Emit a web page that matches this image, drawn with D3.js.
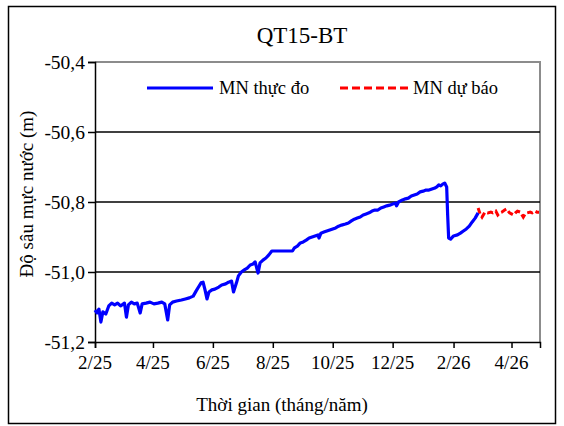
<!DOCTYPE html>
<html><head><meta charset="utf-8">
<script src="https://cdn.jsdelivr.net/npm/d3@7"></script>
</head><body style="margin:0"><svg id="c" width="564" height="426" font-family="Times New Roman"></svg>
<script>
const title = "QT15-BT";
const yLabel = "Độ sâu mực nước (m)";
const xLabel = "Thời gian (tháng/năm)";
const seriesNames = ["MN thực đo", "MN dự báo"];
const yTicks = [-50.4, -50.6, -50.8, -51.0, -51.2];
const xTickDates = ["2025-02-01","2025-04-01","2025-06-01","2025-08-01","2025-10-01","2025-12-01","2026-02-01","2026-04-01"];
const xDomain = ["2025-02-01", "2026-04-30"];

const obsDates = ["2025-02-01","2025-02-03","2025-02-05","2025-02-07","2025-02-09","2025-02-12","2025-02-15","2025-02-18","2025-02-21","2025-02-24","2025-02-27","2025-03-03","2025-03-05","2025-03-07","2025-03-10","2025-03-13","2025-03-16","2025-03-19","2025-03-21","2025-03-25","2025-03-29","2025-04-02","2025-04-06","2025-04-10","2025-04-13","2025-04-16","2025-04-18","2025-04-21","2025-04-25","2025-04-30","2025-05-04","2025-05-08","2025-05-12","2025-05-15","2025-05-18","2025-05-20","2025-05-22","2025-05-24","2025-05-26","2025-05-28","2025-05-31","2025-06-03","2025-06-07","2025-06-10","2025-06-14","2025-06-17","2025-06-20","2025-06-22","2025-06-25","2025-06-27","2025-06-30","2025-07-03","2025-07-06","2025-07-09","2025-07-12","2025-07-14","2025-07-17","2025-07-19","2025-07-22","2025-07-25","2025-07-28","2025-07-31","2025-08-04","2025-08-08","2025-08-13","2025-08-17","2025-08-21","2025-08-23","2025-08-26","2025-08-29","2025-09-01","2025-09-04","2025-09-07","2025-09-10","2025-09-13","2025-09-16","2025-09-17","2025-09-19","2025-09-22","2025-09-25","2025-09-28","2025-10-01","2025-10-04","2025-10-07","2025-10-10","2025-10-14","2025-10-17","2025-10-20","2025-10-23","2025-10-26","2025-10-29","2025-11-01","2025-11-04","2025-11-07","2025-11-10","2025-11-13","2025-11-16","2025-11-19","2025-11-22","2025-11-25","2025-11-28","2025-12-01","2025-12-04","2025-12-05","2025-12-07","2025-12-11","2025-12-14","2025-12-17","2025-12-20","2025-12-23","2025-12-26","2025-12-29","2026-01-01","2026-01-04","2026-01-07","2026-01-10","2026-01-13","2026-01-15","2026-01-17","2026-01-19","2026-01-21","2026-01-23","2026-01-25","2026-01-26","2026-01-27","2026-01-29","2026-02-01","2026-02-05","2026-02-08","2026-02-11","2026-02-14","2026-02-17","2026-02-20","2026-02-23","2026-02-26"];
const obsValues = [-51.109,-51.117,-51.106,-51.143,-51.114,-51.120,-51.097,-51.089,-51.094,-51.089,-51.097,-51.089,-51.129,-51.094,-51.086,-51.091,-51.089,-51.117,-51.091,-51.089,-51.086,-51.091,-51.089,-51.086,-51.091,-51.137,-51.094,-51.086,-51.083,-51.080,-51.077,-51.074,-51.069,-51.054,-51.040,-51.031,-51.029,-51.051,-51.077,-51.057,-51.051,-51.049,-51.043,-51.037,-51.034,-51.029,-51.026,-51.057,-51.031,-51.011,-51.000,-50.994,-50.989,-50.980,-50.977,-50.971,-51.003,-50.974,-50.966,-50.960,-50.951,-50.940,-50.940,-50.940,-50.940,-50.940,-50.940,-50.931,-50.926,-50.917,-50.914,-50.909,-50.903,-50.900,-50.897,-50.894,-50.903,-50.889,-50.886,-50.883,-50.880,-50.877,-50.874,-50.869,-50.866,-50.863,-50.860,-50.854,-50.849,-50.846,-50.843,-50.837,-50.834,-50.831,-50.826,-50.823,-50.823,-50.817,-50.814,-50.811,-50.809,-50.806,-50.803,-50.811,-50.800,-50.794,-50.791,-50.789,-50.783,-50.780,-50.777,-50.771,-50.769,-50.766,-50.766,-50.763,-50.760,-50.757,-50.751,-50.754,-50.749,-50.746,-50.757,-50.837,-50.903,-50.906,-50.897,-50.894,-50.889,-50.883,-50.877,-50.869,-50.857,-50.846,-50.831];

const fcDates = ["2026-02-26","2026-02-28","2026-03-02","2026-03-05","2026-03-08","2026-03-11","2026-03-13","2026-03-16","2026-03-18","2026-03-20","2026-03-22","2026-03-25","2026-03-27","2026-03-30","2026-04-03","2026-04-05","2026-04-07","2026-04-10","2026-04-13","2026-04-15","2026-04-17","2026-04-20","2026-04-22","2026-04-25","2026-04-27","2026-04-29"];
const fcValues = [-50.817,-50.834,-50.843,-50.829,-50.831,-50.829,-50.831,-50.826,-50.837,-50.831,-50.829,-50.823,-50.820,-50.831,-50.837,-50.831,-50.826,-50.829,-50.843,-50.834,-50.831,-50.829,-50.831,-50.826,-50.829,-50.829];

const parse = d3.utcParse("%Y-%m-%d");
const svg = d3.select("#c");
const L = 95, R = 540, T = 62, B = 342;

svg.append("rect").attr("x", 8.5).attr("y", 6.5).attr("width", 547).attr("height", 417)
  .attr("fill", "#fff").attr("stroke", "#000").attr("stroke-width", 1.5);

const x = d3.scaleUtc().domain(xDomain.map(parse)).range([L, R]);
const y = d3.scaleLinear().domain([-51.2, -50.4]).range([B, T]);

svg.append("path").attr("d", `M${L},${T}H${R}V${B}`).attr("fill", "none")
  .attr("stroke", "#8c8c8c").attr("stroke-width", 2);

svg.append("g").selectAll("line").data(yTicks.filter(v => v > -51.2 && v < -50.4)).join("line")
  .attr("x1", L).attr("x2", R).attr("y1", d => y(d)).attr("y2", d => y(d))
  .attr("stroke", "#000").attr("stroke-width", 1.5);

const fmtY = d => d3.format(".1f")(d).replace(".", ",").replace("−", "-");
const yAxis = svg.append("g").attr("transform", `translate(${L},0)`)
  .call(d3.axisLeft(y).tickValues(yTicks).tickSize(7).tickFormat(""));
yAxis.attr("font-family", null).attr("font-size", null);
yAxis.select(".domain").attr("stroke", "#000").attr("stroke-width", 1.5);
yAxis.selectAll(".tick line").attr("stroke", "#000").attr("stroke-width", 1.5);
yAxis.selectAll(".tick text").remove();
svg.append("g").attr("font-family", "Tinos").selectAll("text").data(yTicks).join("text")
  .attr("x", L - 10).attr("y", d => y(d) + 7).attr("text-anchor", "end").attr("font-size", 19.5)
  .attr("font-family", "Tinos").text(fmtY);

const fmtX = d => (d.getUTCMonth() + 1) + "/" + String(d.getUTCFullYear()).slice(2);
const xAxis = svg.append("g").attr("transform", `translate(0,${B})`)
  .call(d3.axisBottom(x).tickValues(xTickDates.map(parse)).tickSize(6).tickFormat(""));
xAxis.attr("font-family", null).attr("font-size", null);
xAxis.select(".domain").attr("stroke", "#000").attr("stroke-width", 1.5);
xAxis.selectAll(".tick line").attr("stroke", "#000").attr("stroke-width", 1.5);
xAxis.selectAll(".tick text").remove();
svg.append("g").selectAll("text").data(xTickDates.map(parse)).join("text")
  .attr("x", d => x(d)).attr("y", B + 27).attr("text-anchor", "middle").attr("font-size", 19)
  .attr("font-family", "Times New Roman").text(fmtX);

const line = d3.line().x(d => x(d[0])).y(d => y(d[1]));
const obs = obsDates.map((d, i) => [parse(d), obsValues[i]]);
const fc = fcDates.map((d, i) => [parse(d), fcValues[i]]);

svg.append("path").datum(fc).attr("d", line).attr("fill", "none")
  .attr("stroke", "#ff0000").attr("stroke-width", 3).attr("stroke-dasharray", "6,3");
svg.append("path").datum(obs).attr("d", line).attr("fill", "none")
  .attr("stroke", "#0000ff").attr("stroke-width", 3.2).attr("stroke-linejoin", "round");

const leg = svg.append("g");
leg.append("line").attr("x1", 147).attr("x2", 213).attr("y1", 88).attr("y2", 88)
  .attr("stroke", "#0000ff").attr("stroke-width", 3);
leg.append("line").attr("x1", 340).attr("x2", 408).attr("y1", 88).attr("y2", 88)
  .attr("stroke", "#ff0000").attr("stroke-width", 3).attr("stroke-dasharray", "8,4");
leg.selectAll("text").data(seriesNames).join("text")
  .attr("x", (d, i) => i === 0 ? 219 : 413).attr("y", 94).attr("font-size", 18.5)
  .attr("font-family", "Liberation Serif").text(d => d);

const labels = [
  {t: title, x: 302, y: 43, s: 23, r: 0},
  {t: yLabel, x: 33, y: 194, s: 19, r: -90},
  {t: xLabel, x: 282, y: 411, s: 19, r: 0}
];
svg.append("g").selectAll("text").data(labels).join("text")
  .attr("transform", d => `translate(${d.x},${d.y}) rotate(${d.r})`)
  .attr("text-anchor", "middle").attr("font-size", d => d.s)
  .attr("font-family", "Times New Roman").text(d => d.t);
</script></body></html>
